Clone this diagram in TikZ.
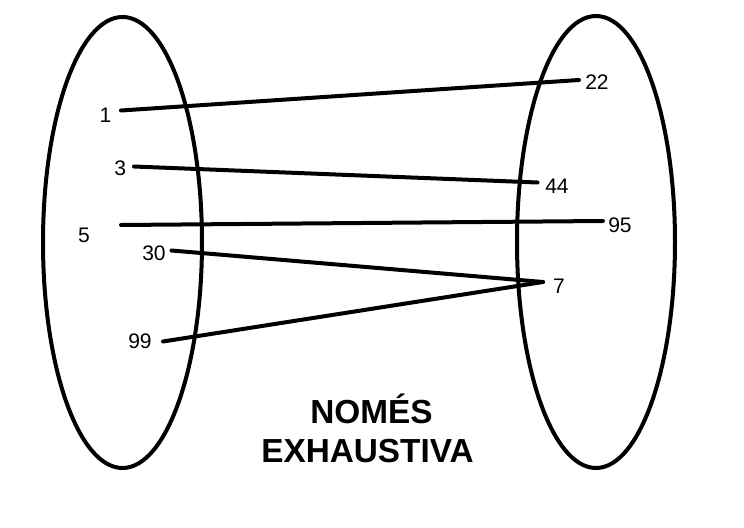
\documentclass[tikz,border=0pt]{standalone}
\usepackage{fontspec}
\setmainfont{Liberation Sans}
\begin{document}
\begin{tikzpicture}[x=0.75pt,y=-0.75pt,
  num/.style={inner sep=0pt, font=\fontsize{15.8}{18}\selectfont},
  setshape/.style={line width=3pt},
  link/.style={line width=3pt, line cap=round},
  title/.style={inner sep=0pt, font=\fontsize{25}{29}\bfseries\selectfont, align=center}]
\useasboundingbox[fill=white] (0,0) rectangle (744,528);
% sets
\draw[setshape] (122.5,242.5) ellipse [x radius=79.5, y radius=225.5];
\draw[setshape] (596,242) ellipse [x radius=79, y radius=226];
% labels
\node[num] (n1) at (105.5,115.5) {1};
\node[num] (n3) at (120.3,168) {3};
\node[num] (n5) at (84,235) {5};
\node[num] (n30) at (154,253) {30};
\node[num] (n99) at (140,341) {99};
\node[num] (n22) at (597,82) {22};
\node[num] (n44) at (557,186) {44};
\node[num] (n95) at (620,225.5) {95};
\node[num] (n7) at (559,286) {7};
% line ends
\coordinate (a1) at (121,110.5);
\coordinate (a3) at (134,166.5);
\coordinate (a5) at (121,225);
\coordinate (a30) at (171.5,250.5);
\coordinate (a99) at (163,341.5);
\coordinate (b22) at (579,80);
\coordinate (b44) at (537.5,182.5);
\coordinate (b95) at (603,221);
\coordinate (b7) at (543,282);
\draw[link] (a1) -- (b22);
\draw[link] (a3) -- (b44);
\draw[link] (a5) -- (b95);
\draw[link] (a30) -- (b7);
\draw[link] (a99) -- (b7);
% title
\node[title, anchor=base] (t1) at (371.5,423) {NOMÉS};
\node[title, anchor=base] (t2) at (367.5,462) {EXHAUSTIVA};
\end{tikzpicture}
\end{document}
